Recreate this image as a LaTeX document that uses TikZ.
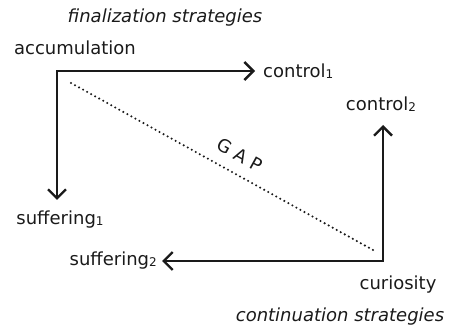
\documentclass[tikz,border=0pt]{standalone}
\usepackage{fontspec}
\setmainfont{DejaVu Sans}
\usetikzlibrary{arrows.meta}
\newcommand\mysub[1]{\raisebox{-1pt}{\fontsize{12}{12}\selectfont #1}}
\definecolor{ink}{HTML}{1A1A1A}
\begin{document}
\begin{tikzpicture}[x=1pt,y=-1pt,
  lbl/.style={inner sep=0pt, font=\fontsize{18}{20}\selectfont, text=ink},
  ital/.style={lbl, font=\fontsize{18}{20}\selectfont\itshape},
  arr/.style={draw=ink, line width=2.4pt, line join=miter,
    {Straight Barb[length=9pt,width=18pt]}-{Straight Barb[length=9pt,width=18pt]}},
  gapline/.style={draw=ink, line width=2.3pt, dash pattern=on 0pt off 4.6pt, line cap=round}]
\useasboundingbox (0,0) rectangle (452,336);
\node[ital] (fin) at (165,18) {finalization strategies};
\node[lbl] (acc) at (75,48) {accumulation};
\coordinate (A) at (57,71);
\node[lbl, anchor=west] (c1) at (263,71) {control\mysub{1}};
\coordinate (c1tip) at (255,71);
\node[lbl] (s1) at (60,220) {suffering\mysub{1}};
\coordinate (s1tip) at (57,200);
\coordinate (C) at (383,261);
\node[lbl] (c2) at (381,104) {control\mysub{2}};
\coordinate (c2tip) at (383,125);
\node[lbl, anchor=east] (s2) at (157,261) {suffering\mysub{2}};
\coordinate (s2tip) at (162,261);
\node[lbl] (cur) at (398,285) {curiosity};
\node[ital] (cont) at (340,317) {continuation strategies};
\coordinate (g1) at (71,83);
\coordinate (g2) at (373,250);
\node[lbl, rotate=-29] (gap) at (240,155) {G A P};
\draw[arr] (c1tip) -- (A) -- (s1tip);
\draw[arr] (s2tip) -- (C) -- (c2tip);
\draw[gapline] (g1) -- (g2);
\end{tikzpicture}
\end{document}
